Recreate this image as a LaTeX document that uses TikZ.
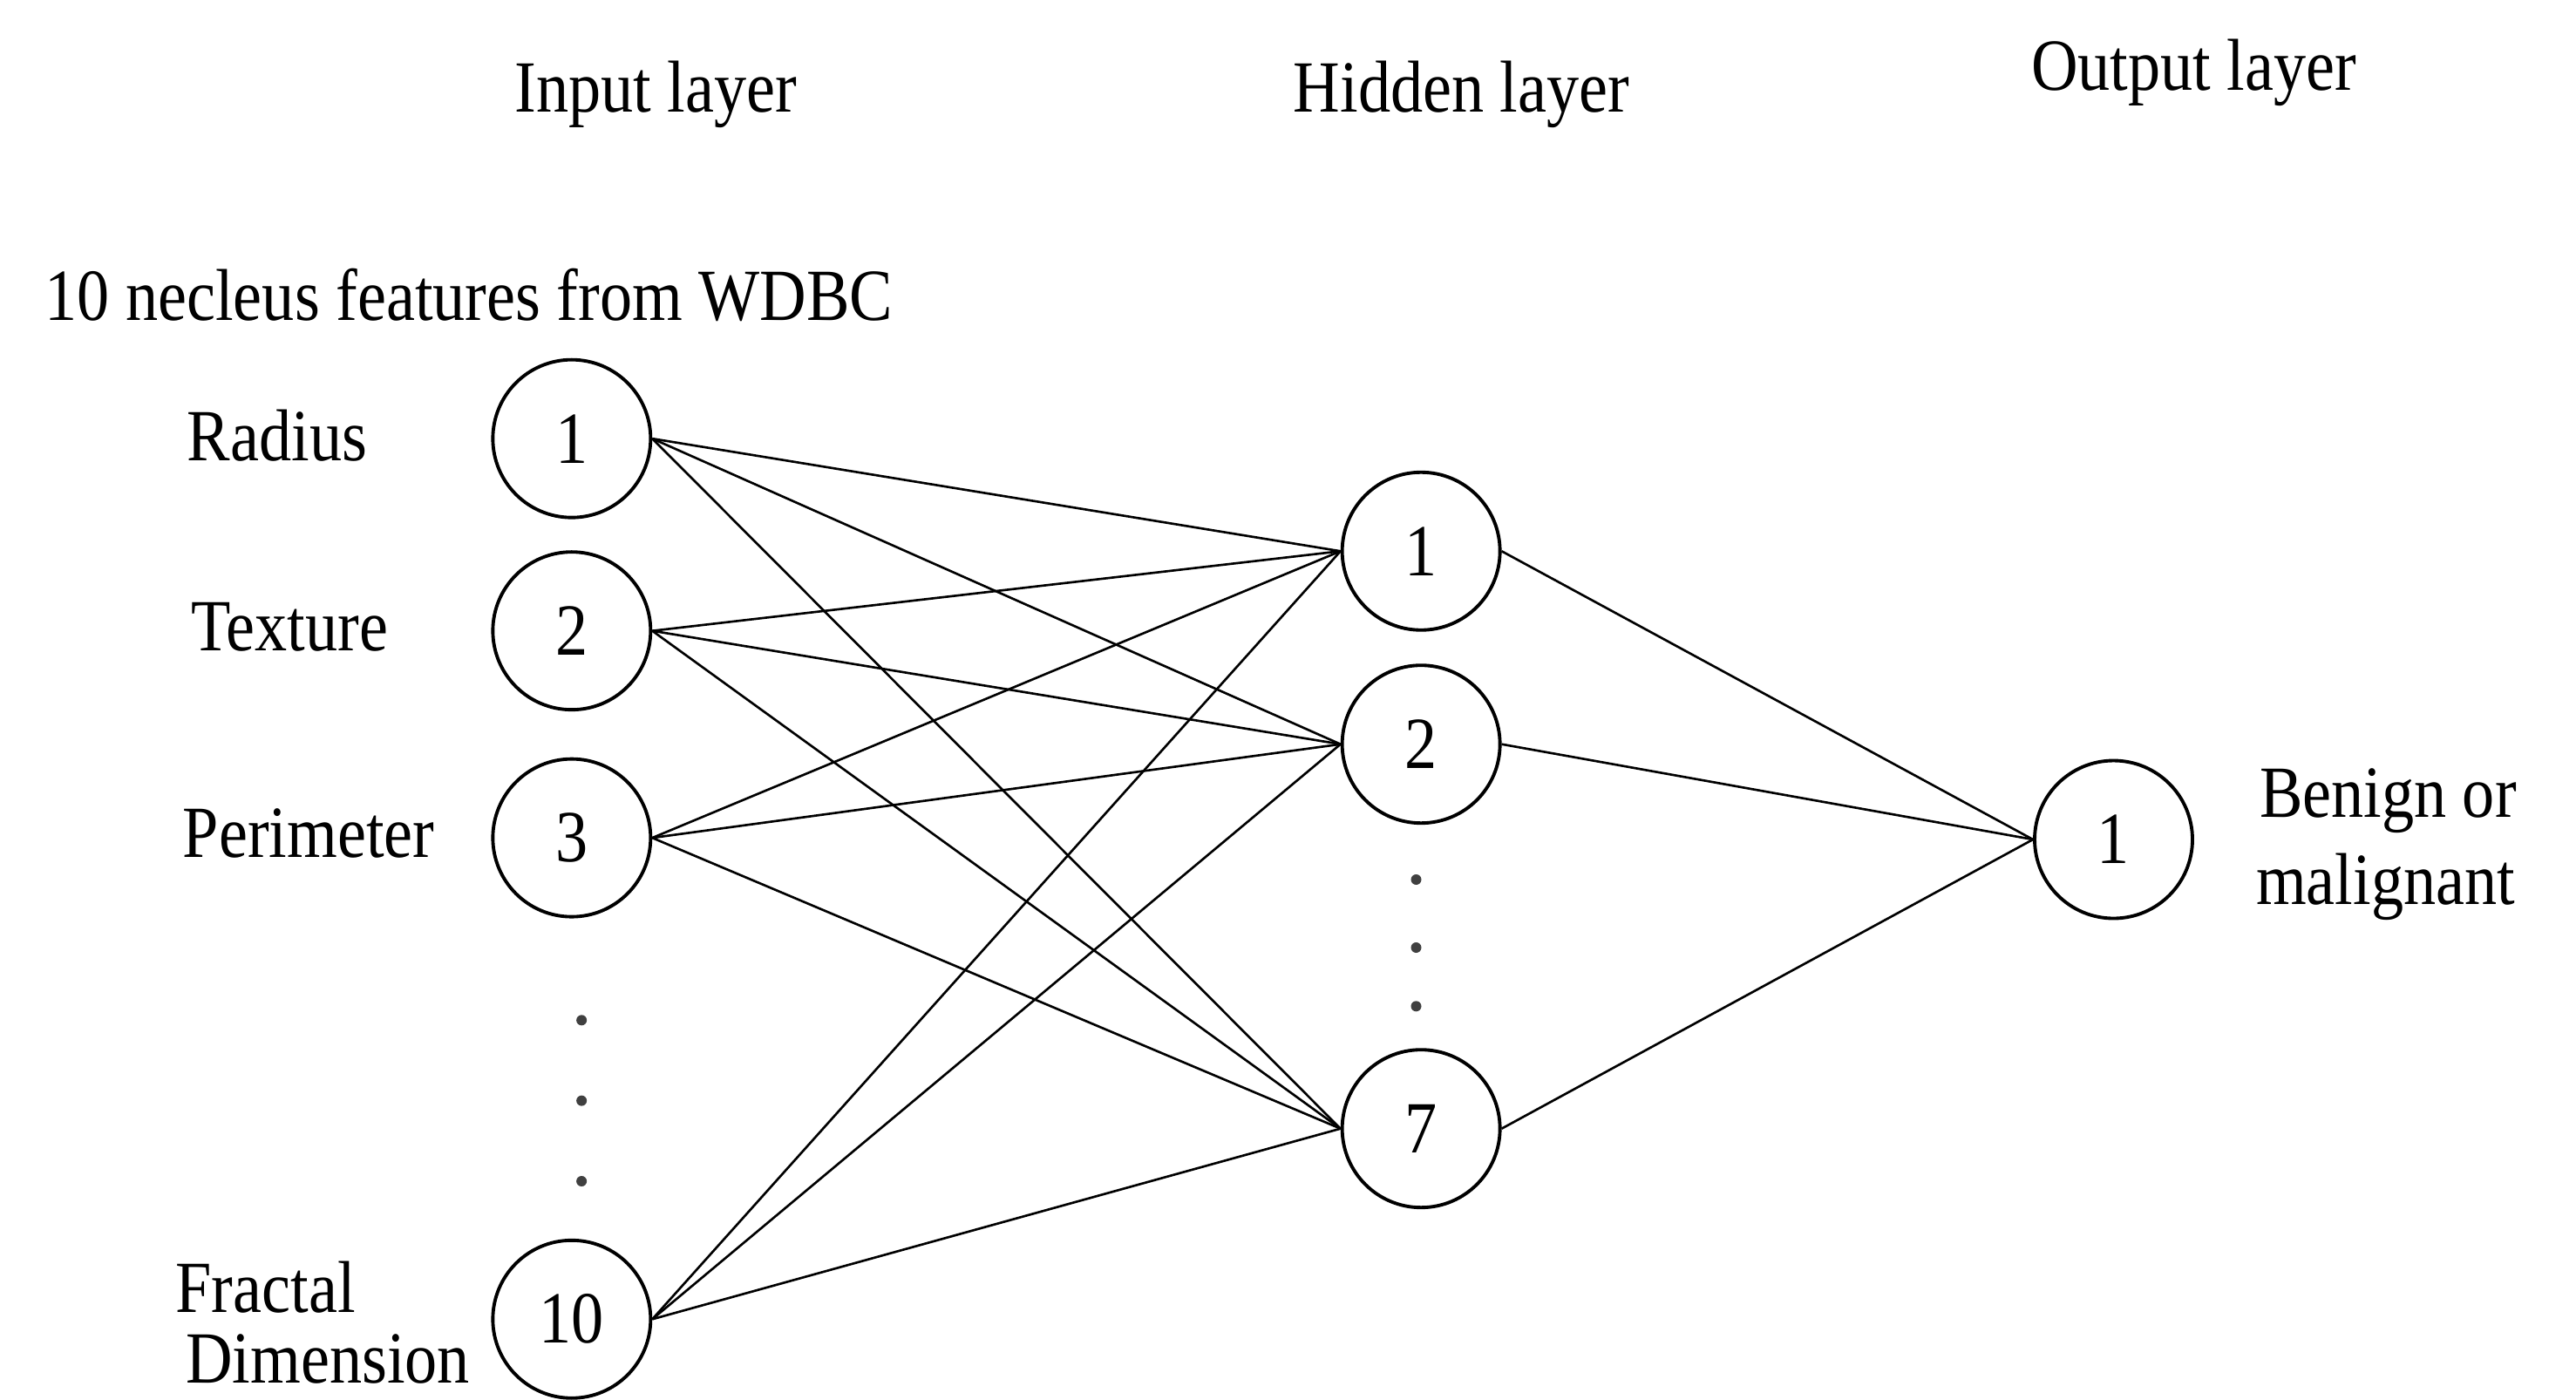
\documentclass[tikz,border=0pt]{standalone}
\usepackage{fontspec}
\setmainfont[FakeStretch=0.88]{Liberation Serif}

\begin{document}
\begin{tikzpicture}[x=1.8846cm,y=-1.8846cm,
        neuron/.style={draw,circle,line width=1.1pt,minimum size=1.81cm,inner sep=0pt,font=\fontsize{24}{28}\selectfont},
        lbl/.style={inner sep=0pt,anchor=base west,font=\fontsize{24}{28}\selectfont},
        link/.style={line width=0.75pt},
        dot/.style={fill=black!75}]
        \useasboundingbox (0,0) rectangle (15.68,8.52);
        % layer titles
        \node[lbl] (inlayer) at (3.13,0.68) {Input layer};
        \node[lbl] (hidlayer) at (7.87,0.68) {Hidden layer};
        \node[lbl] (outlayer) at (12.36,0.55) {Output layer};
        \node[lbl] (features) at (0.27,1.95) {10 necleus features from WDBC};
        % input layer
        \node[neuron] (in1) at (3.48,2.67) {1};
        \node[neuron] (in2) at (3.48,3.84) {2};
        \node[neuron] (in3) at (3.48,5.10) {3};
        \node[neuron] (in10) at (3.48,8.03) {10};
        \fill[dot] (3.54,6.21) circle (0.06cm);
        \fill[dot] (3.54,6.70) circle (0.06cm);
        \fill[dot] (3.54,7.19) circle (0.06cm);
        \node[lbl] (radius) at (1.137,2.805) {Radius};
        \node[lbl] (texture) at (1.16,3.96) {Texture};
        \node[lbl] (perimeter) at (1.11,5.22) {Perimeter};
        \node[lbl] (fractal) at (1.066,7.99) {Fractal};
        \node[lbl] (dimension) at (1.127,8.42) {Dimension};
        % hidden layer
        \node[neuron] (hid1) at (8.65,3.355) {1};
        \node[neuron] (hid2) at (8.65,4.53) {2};
        \node[neuron] (hid7) at (8.65,6.87) {7};
        \fill[dot] (8.62,5.354) circle (0.06cm);
        \fill[dot] (8.62,5.768) circle (0.06cm);
        \fill[dot] (8.62,6.125) circle (0.06cm);
        % output layer
        \node[neuron] (out1) at (12.865,5.11) {1};
        \node[lbl] (benign) at (13.75,4.973) {Benign or};
        \node[lbl] (malignant) at (13.73,5.504) {malignant};
        % input -> hidden
        \draw[link] (in1.east) -- (hid1.west);
        \draw[link] (in1.east) -- (hid2.west);
        \draw[link] (in1.east) -- (hid7.west);
        \draw[link] (in2.east) -- (hid1.west);
        \draw[link] (in2.east) -- (hid2.west);
        \draw[link] (in2.east) -- (hid7.west);
        \draw[link] (in3.east) -- (hid1.west);
        \draw[link] (in3.east) -- (hid2.west);
        \draw[link] (in3.east) -- (hid7.west);
        \draw[link] (in10.east) -- (hid1.west);
        \draw[link] (in10.east) -- (hid2.west);
        \draw[link] (in10.east) -- (hid7.west);
        % hidden -> output
        \draw[link] (hid1.east) -- (out1.west);
        \draw[link] (hid2.east) -- (out1.west);
        \draw[link] (hid7.east) -- (out1.west);
    \end{tikzpicture}
\end{document}
